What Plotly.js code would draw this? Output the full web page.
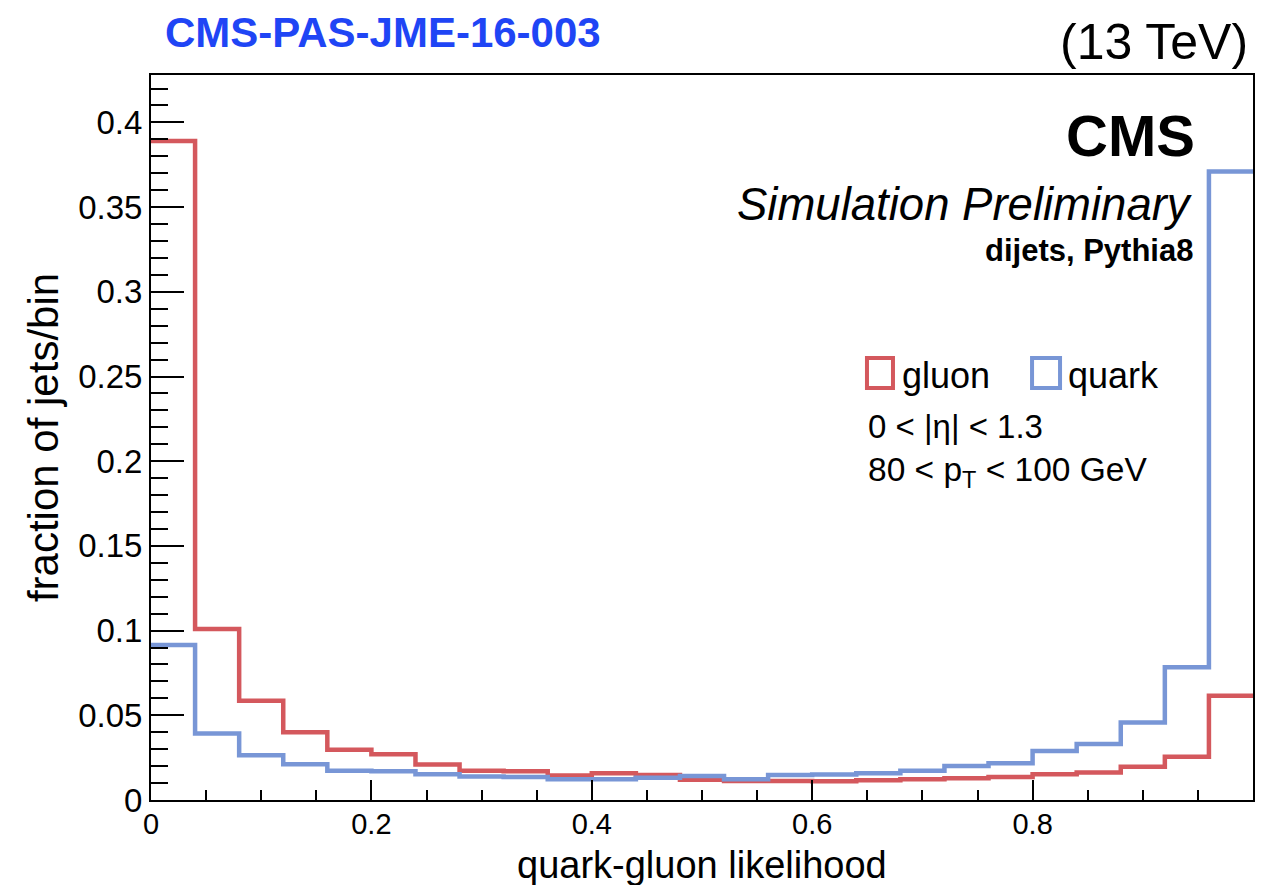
<!DOCTYPE html>
<html>
<head>
<meta charset="utf-8">
<script src="https://cdn.plot.ly/plotly-3.0.1.min.js"></script>
<style>
html,body{margin:0;padding:0;background:#fff;}
#chart{width:1261px;height:885px;}
</style>
</head>
<body>
<div id="chart"></div>
<script>
// Bin edges of the histogram (25 bins on [0,1])
var binEdges = [0, 0.04, 0.08, 0.12, 0.16, 0.20, 0.24, 0.28, 0.32, 0.36, 0.40, 0.44, 0.48,
                0.52, 0.56, 0.60, 0.64, 0.68, 0.72, 0.76, 0.80, 0.84, 0.88, 0.92, 0.96, 1.0];
// fraction of jets per bin
var gluonValues = [0.389, 0.101, 0.0586, 0.040, 0.0296, 0.027, 0.021, 0.0172, 0.0170, 0.0145,
                   0.0158, 0.0148, 0.0120, 0.0112, 0.0112, 0.0110, 0.0116, 0.0122, 0.0128, 0.0136,
                   0.0152, 0.0162, 0.0197, 0.0256, 0.0615];
var quarkValues = [0.0915, 0.0392, 0.0264, 0.0211, 0.0172, 0.0170, 0.0152, 0.0138, 0.0136, 0.0122,
                   0.0122, 0.0132, 0.0142, 0.0122, 0.0148, 0.0150, 0.0158, 0.0172, 0.0200, 0.0217,
                   0.0290, 0.0330, 0.0458, 0.0783, 0.371];
var seriesNames = ["gluon", "quark"];
var xTickVals = [0, 0.2, 0.4, 0.6, 0.8, 1];
var xTickText = ["0", "0.2", "0.4", "0.6", "0.8", "1"];
var yTickVals = [0, 0.05, 0.1, 0.15, 0.2, 0.25, 0.3, 0.35, 0.4];
var yTickText = ["0", "0.05", "0.1", "0.15", "0.2", "0.25", "0.3", "0.35", "0.4"];
var xTitle = "quark-gluon likelihood";
var yTitle = "fraction of jets/bin";

var RED = "#d4585d";
var BLUE = "#7896d6";
var FONT = "Liberation Sans, Arial, Helvetica, sans-serif";

function stepY(vals){ return vals.concat([vals[vals.length-1]]); }

var traces = [
  {x: binEdges, y: stepY(gluonValues), name: seriesNames[0], type: "scatter", mode: "lines",
   line: {shape: "hv", color: RED, width: 4.5}, showlegend: false},
  {x: binEdges, y: stepY(quarkValues), name: seriesNames[1], type: "scatter", mode: "lines",
   line: {shape: "hv", color: BLUE, width: 4.5}, showlegend: false}
];

var layout = {
  width: 1261, height: 885,
  margin: {l: 151, r: 8, t: 75, b: 85},
  paper_bgcolor: "#fff", plot_bgcolor: "#fff",
  font: {family: FONT, color: "#000"},
  showlegend: false,
  xaxis: {
    range: [0, 1], showgrid: false, zeroline: false,
    showline: true, linecolor: "#000", linewidth: 2, mirror: true,
    ticks: "inside", ticklen: 20, tickwidth: 2, tickcolor: "#000",
    tickvals: xTickVals, ticktext: xTickText,
    tickfont: {size: 29, family: FONT}, ticklabelstandoff: -3,
    minor: {dtick: 0.05, ticklen: 10, tickwidth: 2, tickcolor: "#000", ticks: "inside"}
  },
  yaxis: {
    range: [0, 0.428], showgrid: false, zeroline: false,
    showline: true, linecolor: "#000", linewidth: 2, mirror: true,
    ticks: "inside", ticklen: 33, tickwidth: 2, tickcolor: "#000",
    tickvals: yTickVals, ticktext: yTickText,
    tickfont: {size: 33, family: FONT},
    minor: {dtick: 0.01, ticklen: 17, tickwidth: 2, tickcolor: "#000", ticks: "inside"},
    title: {text: yTitle, font: {size: 42, family: FONT}, standoff: 6}
  },
  shapes: [
    {type: "rect", xref: "paper", yref: "paper", x0: 0.6497, x1: 0.6733, y0: 0.5683, y1: 0.6097,
     line: {color: RED, width: 4}, fillcolor: "rgba(0,0,0,0)"},
    {type: "rect", xref: "paper", yref: "paper", x0: 0.7995, x1: 0.8249, y0: 0.5683, y1: 0.6097,
     line: {color: BLUE, width: 4}, fillcolor: "rgba(0,0,0,0)"}
  ],
  annotations: [
    {text: xTitle, xref: "paper", yref: "paper", x: 0.5, y: -0.0895,
     xanchor: "center", yanchor: "middle", showarrow: false, borderpad: 0,
     font: {size: 38, family: FONT}},
    {text: "<b>CMS-PAS-JME-16-003</b>", xref: "paper", yref: "paper", x: 0.0109, y: 1.0593,
     xanchor: "left", yanchor: "middle", showarrow: false, font: {size: 42, color: "#1f45f5", family: FONT}},
    {text: "(13 TeV)", xref: "paper", yref: "paper", x: 0.9973, y: 1.0455,
     xanchor: "right", yanchor: "middle", showarrow: false, font: {size: 50, family: FONT}},
    {text: "<b>CMS</b>", xref: "paper", yref: "paper", x: 0.9492, y: 0.9172,
     xanchor: "right", yanchor: "middle", showarrow: false, font: {size: 58, family: FONT}},
    {text: "<i>Simulation Preliminary</i>", xref: "paper", yref: "paper", x: 0.9474, y: 0.8207,
     xanchor: "right", yanchor: "middle", showarrow: false, font: {size: 45.5, family: FONT}},
    {text: "<b>dijets, Pythia8</b>", xref: "paper", yref: "paper", x: 0.9474, y: 0.7586,
     xanchor: "right", yanchor: "middle", showarrow: false, font: {size: 31, family: FONT}},
    {text: seriesNames[0], xref: "paper", yref: "paper", x: 0.6797, y: 0.586,
     xanchor: "left", yanchor: "middle", showarrow: false, font: {size: 36, family: FONT}},
    {text: seriesNames[1], xref: "paper", yref: "paper", x: 0.8303, y: 0.586,
     xanchor: "left", yanchor: "middle", showarrow: false, font: {size: 36, family: FONT}},
    {text: "0 < |η| < 1.3", xref: "paper", yref: "paper", x: 0.6488, y: 0.5145,
     xanchor: "left", yanchor: "middle", showarrow: false, font: {size: 33, family: FONT}},
    {text: "80 < p<sub>T</sub> < 100 GeV", xref: "paper", yref: "paper", x: 0.6488, y: 0.452,
     xanchor: "left", yanchor: "middle", showarrow: false, font: {size: 33.5, family: FONT}}
  ]
};

Plotly.newPlot("chart", traces, layout, {displayModeBar: false, staticPlot: true});
</script>
</body>
</html>
